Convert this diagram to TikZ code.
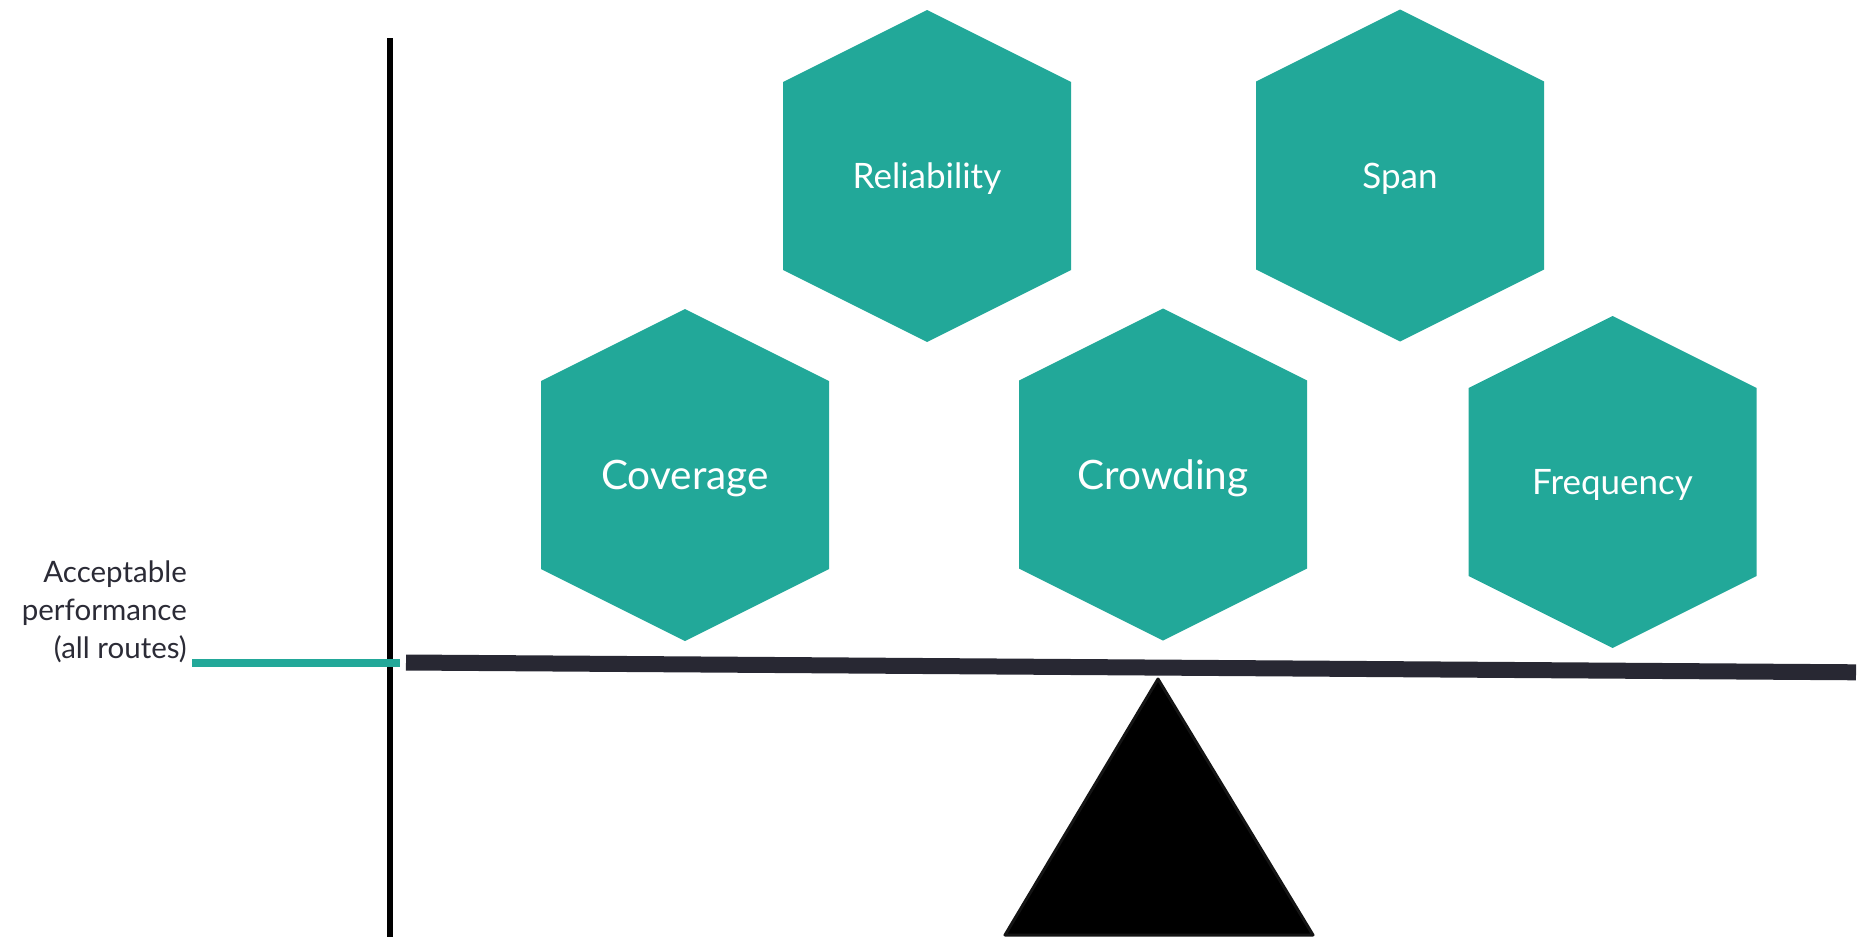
\documentclass[tikz,border=0pt]{standalone}
\usepackage{fontspec}
\setmainfont{Lato}
\usetikzlibrary{backgrounds}

\definecolor{hexteal}{HTML}{22A899}
\definecolor{beamgray}{HTML}{282833}
\definecolor{labelgray}{HTML}{2B2B36}

\tikzset{
  hexlabel/.style={inner sep=0pt, outer sep=0pt, text=white, text depth=0pt},
  bigtxt/.style={hexlabel, font=\fontsize{40.5}{44}\selectfont, text height=29pt},
  smalltxt/.style={hexlabel, font=\fontsize{35}{40}\selectfont, text height=25pt},
  hexfill/.style={fill=hexteal},
}

% hexagon (pointed top, long vertical sides) around a named node
\newcommand{\hexaround}[1]{%
  \fill[hexfill] ([shift={(0,-166)}]#1.center) -- ([shift={(144,-94)}]#1.center)
    -- ([shift={(144,94)}]#1.center) -- ([shift={(0,166)}]#1.center)
    -- ([shift={(-144,94)}]#1.center) -- ([shift={(-144,-94)}]#1.center) -- cycle;}

\begin{document}
\begin{tikzpicture}[x=1pt, y=-1pt]
  \useasboundingbox (0,0) rectangle (1864,937);

  % performance axis
  \coordinate (axtop) at (390,38);
  \coordinate (axbot) at (390,937);
  \draw[line width=6.7pt, black] (axtop) -- (axbot);

  % threshold label and marker
  \node[anchor=base east, align=right, inner sep=0pt, text=labelgray,
        font=\fontsize{29.5}{38}\selectfont] (lbl) at (187,658)
        {Acceptable\\performance\\(all routes)};
  \coordinate (tl) at (192,663);
  \coordinate (tr) at (400,663);
  \draw[line width=7.7pt, hexteal] (tl) -- (tr);

  % balance beam
  \coordinate (bl) at (406,662.5);
  \coordinate (br) at (1856,672.3);
  \draw[line width=16pt, beamgray] (bl) -- (br);

  % fulcrum
  \coordinate (apex) at (1158,679);
  \coordinate (baseL) at (1005,935);
  \coordinate (baseR) at (1313,935);
  \filldraw[fill=black, draw=black!92, line width=3pt, line join=round]
    (apex) -- (baseL) -- (baseR) -- cycle;

  % service attributes
  \node[smalltxt] (rel)  at (927,176)    {Reliability};
  \node[smalltxt] (span) at (1400,175.5) {Span};
  \node[bigtxt]   (cov)  at (685,475)    {Coverage};
  \node[bigtxt]   (crow) at (1163,474.5) {Crowding};
  \node[smalltxt] (freq) at (1612.5,482) {Frequency};

  \begin{scope}[on background layer]
    \hexaround{rel}
    \hexaround{span}
    \hexaround{cov}
    \hexaround{crow}
    \hexaround{freq}
  \end{scope}
\end{tikzpicture}
\end{document}
